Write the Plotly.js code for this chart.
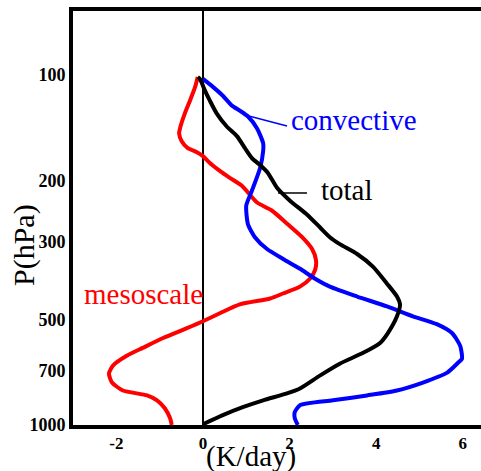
<!DOCTYPE html>
<html>
<head>
<meta charset="utf-8">
<script src="https://cdn.plot.ly/plotly-3.0.1.min.js"></script>
<style>
  html, body { margin: 0; padding: 0; background: #fff; overflow: hidden; }
  #chart { width: 481px; height: 471px; }
</style>
</head>
<body>
<div id="chart"></div>
<script>
// Heating rate profiles (K/day) versus pressure (hPa)
const mesoscaleX = [-0.12, -0.18, -0.30, -0.42, -0.53, -0.55, -0.49, -0.35, -0.14, 0.00, 0.16, 0.39, 0.62, 0.90, 1.25, 1.59, 1.96, 2.29, 2.52, 2.61, 2.59, 2.47, 2.24, 1.85, 1.55, 0.85, 0.39, 0.00, -0.37, -0.92, -1.39, -1.76, -2.08, -2.17, -2.10, -1.85, -1.29, -1.06, -0.88, -0.76, -0.72];
const mesoscaleP = [101.3, 108.1, 118.4, 128.9, 142.1, 146.8, 154.6, 161.8, 166.1, 170.5, 178.4, 187.9, 196.7, 207.3, 231.4, 243.8, 267.1, 290.6, 314.2, 337.5, 360.2, 381.9, 402.3, 421.0, 435.0, 452.3, 479.5, 505.1, 528.7, 564.2, 602.1, 634.3, 676.9, 713.1, 756.2, 796.7, 823.1, 850.3, 895.4, 955.4, 1000];

const totalX = [-0.12, -0.07, 0.05, 0.16, 0.32, 0.55, 0.79, 0.97, 1.13, 1.32, 1.50, 1.71, 2.01, 2.40, 2.70, 2.93, 3.16, 3.56, 3.93, 4.25, 4.48, 4.55, 4.48, 4.27, 4.09, 3.70, 3.16, 2.70, 2.24, 1.94, 1.39, 0.92, 0.46, 0.00];
const totalP = [101.3, 102.6, 111.0, 118.4, 128.9, 140.3, 149.7, 161.8, 172.7, 180.7, 190.4, 209.9, 228.5, 250.2, 272.3, 290.6, 304.2, 324.6, 353.2, 394.5, 429.4, 452.3, 489.0, 546.1, 582.8, 622.0, 668.2, 722.5, 786.4, 812.4, 850.3, 889.6, 937.1, 995];

const convectiveX = [0.00, 0.23, 0.46, 0.67, 0.85, 1.04, 1.25, 1.39, 1.39, 1.32, 1.13, 1.00, 1.04, 1.20, 1.48, 1.85, 2.24, 2.59, 2.93, 3.56, 4.25, 4.85, 5.40, 5.75, 5.94, 5.98, 5.89, 5.64, 5.08, 4.48, 3.79, 3.00, 2.24, 2.12, 2.12, 2.19];
const convectiveP = [102.6, 108.1, 114.6, 122.3, 126.4, 131.4, 142.1, 156.6, 165.0, 184.3, 214.1, 236.0, 267.1, 290.6, 314.2, 335.3, 357.8, 381.9, 402.3, 429.4, 458.2, 489.0, 515.1, 546.1, 594.3, 646.7, 663.8, 708.5, 756.2, 796.7, 823.1, 850.3, 878.1, 919.0, 955.4, 1000];

const xTickVals = [-2, 0, 2, 4, 6];
const xTickText = ['-2', '0', '2', '4', '6'];
const yTickVals = [100, 200, 300, 500, 700, 1000];
const yTickText = ['100', '200', '300', '500', '700', '1000'];

const serif = 'Liberation Serif';

const traces = [
  { x: mesoscaleX, y: mesoscaleP, name: 'mesoscale', mode: 'lines',
    line: { color: '#ff0000', width: 4, shape: 'spline', smoothing: 0.6 } },
  { x: convectiveX, y: convectiveP, name: 'convective', mode: 'lines',
    line: { color: '#0000ff', width: 4, shape: 'spline', smoothing: 0.6 } },
  { x: totalX, y: totalP, name: 'total', mode: 'lines',
    line: { color: '#000000', width: 4, shape: 'spline', smoothing: 0.6 } }
];

const layout = {
  width: 481, height: 471,
  font: { family: serif },
  margin: { l: 73, r: 0, t: 11, b: 46, pad: 0 },
  paper_bgcolor: '#ffffff', plot_bgcolor: '#ffffff',
  showlegend: false,
  xaxis: {
    range: [-3.0, 6.42], showgrid: false,
    zeroline: true, zerolinecolor: '#000000', zerolinewidth: 1.5,
    showline: true, linecolor: '#000000', linewidth: 4, mirror: true,
    ticks: '', tickvals: xTickVals, ticktext: xTickText,
    tickfont: { family: serif, size: 17, color: '#000000', weight: 'bold' },
    title: { text: '' }
  },
  yaxis: {
    type: 'log', autorange: false, range: [3, 1.817], showgrid: false,
    zeroline: false,
    showline: true, linecolor: '#000000', linewidth: 4, mirror: false,
    ticks: '', tickvals: yTickVals, ticktext: yTickText,
    tickfont: { family: serif, size: 18, color: '#000000', weight: 'bold' },
    title: { text: '' }
  },
  annotations: [
    { text: 'P(hPa)', xref: 'paper', yref: 'paper', x: -0.120, y: 0.4348,
      xanchor: 'center', yanchor: 'middle', textangle: -90, showarrow: false,
      font: { family: serif, size: 30, color: '#000000' } },
    { text: '(K/day)', xref: 'paper', yref: 'paper', x: 0.436, y: -0.075,
      xanchor: 'center', yanchor: 'middle', showarrow: false,
      font: { family: serif, size: 29, color: '#000000' } },
    { text: 'convective', xref: 'paper', yref: 'paper', x: 0.529, y: 0.737,
      xanchor: 'left', yanchor: 'middle', showarrow: false,
      font: { family: serif, size: 29, color: '#0000ff' } },
    { text: 'total', xref: 'paper', yref: 'paper', x: 0.603, y: 0.5676,
      xanchor: 'left', yanchor: 'middle', showarrow: false,
      font: { family: serif, size: 29, color: '#000000' } },
    { text: 'mesoscale', xref: 'paper', yref: 'paper', x: 0.022, y: 0.3164,
      xanchor: 'left', yanchor: 'middle', showarrow: false,
      font: { family: serif, size: 29, color: '#ff0000' } }
  ],
  shapes: [
    { type: 'line', xref: 'paper', yref: 'paper', x0: 0.4216, y0: 0.7488, x1: 0.5245, y1: 0.7222,
      line: { color: '#0000ff', width: 1.5 } },
    { type: 'line', xref: 'paper', yref: 'paper', x0: 0.5025, y0: 0.5604, x1: 0.5735, y1: 0.5604,
      line: { color: '#000000', width: 1.5 } }
  ]
};

Plotly.newPlot('chart', traces, layout, { displayModeBar: false, staticPlot: true });
</script>
</body>
</html>
